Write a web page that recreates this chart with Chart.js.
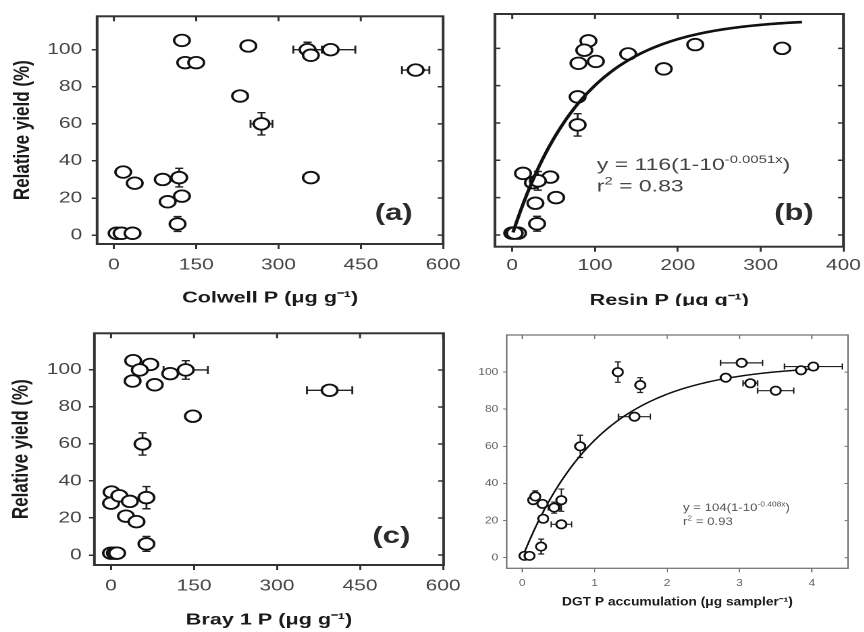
<!DOCTYPE html>
<html>
<head>
<meta charset="utf-8">
<script src="https://cdn.jsdelivr.net/npm/chart.js@4.4.1/dist/chart.umd.min.js"></script>
<style>
  body { margin: 0; background: #fff; width: 864px; height: 632px; overflow: hidden; position: relative; }
  .panel { position: absolute; overflow: hidden; }
  .panel canvas { display: block; }
</style>
</head>
<body>
<div class="panel" style="left:0;top:0;width:470px;height:310px"><canvas id="colwell"></canvas></div>
<div class="panel" style="left:455px;top:0;width:412px;height:306px"><canvas id="resin"></canvas></div>
<div class="panel" style="left:0;top:310px;width:470px;height:322px"><canvas id="bray"></canvas></div>
<div class="panel" style="left:455px;top:310px;width:410px;height:322px"><canvas id="dgt"></canvas></div>
<script>
// (a) Colwell P vs relative yield
const colwellX    = [124, 245, 130, 150, 230, 269, 353, 359, 395, 550, 359, 17, 38, 89, 119, 98, 124, 116, 5, 14, 34];
const colwellY    = [105, 102, 93, 93, 75, 60, 100, 97, 100, 89, 31, 34, 28, 30, 31, 18, 21, 6, 1, 1, 1];
const colwellXErr = [0, 0, 0, 0, 0, 20, 26, 0, 45, 25, 0, 0, 0, 0, 0, 0, 0, 0, 0, 0, 0];
const colwellYErr = [0, 0, 0, 0, 0, 6, 4, 0, 0, 2, 0, 0, 0, 0, 5, 0, 3, 4, 0, 0, 0];

// (b) Resin P
const resinX    = [92, 87, 80, 101, 140, 183, 221, 326, 79, 79, 13, 46, 25, 31, 28, 53, 30, 0, 7, 3];
const resinY    = [104, 99, 92, 93, 97, 89, 102, 100, 74, 59, 33, 31, 28, 29, 17, 20, 6, 1, 1, 1];
const resinYErr = [0, 0, 0, 0, 0, 2, 0, 0, 0, 6, 0, 0, 0, 5, 0, 0, 4, 0, 0, 0];
const resinFit  = { a: 116, k: 0.0051, r2: '0.83', from: 1, to: 350 };

// (c) Bray 1 P
const brayX    = [40, 71, 52, 39, 79, 107, 135, 395, 148, 57, 64, 1, 0, 15, 34, 27, 46, 64, 0, 7, 11];
const brayY    = [105, 103, 100, 94, 92, 98, 100, 89, 75, 60, 31, 34, 28, 32, 29, 21, 18, 6, 1, 1, 1];
const brayXErr = [0, 0, 0, 0, 0, 0, 40, 41, 0, 0, 0, 0, 0, 0, 0, 0, 0, 0, 0, 0, 0];
const brayYErr = [0, 0, 0, 0, 0, 0, 5, 0, 0, 6, 6, 0, 0, 0, 0, 0, 0, 4, 0, 0, 0];

// (d) DGT P accumulation
const dgtX    = [3.03, 2.81, 3.85, 4.02, 3.15, 3.5, 1.32, 1.63, 1.55, 0.8, 0.15, 0.18, 0.28, 0.44, 0.54, 0.29, 0.54, 0.26, 0.03, 0.1];
const dgtY    = [105, 97, 101, 103, 94, 90, 100, 93, 76, 60, 31, 33, 29, 27, 31, 21, 18, 6, 1, 1];
const dgtXErr = [0.29, 0, 0, 0.4, 0.1, 0.25, 0, 0, 0.22, 0, 0, 0, 0, 0.08, 0, 0, 0.14, 0, 0, 0];
const dgtYErr = [0, 0, 0, 2, 0, 0, 5.5, 4, 0, 6, 0, 3, 0, 3, 6, 0, 0, 4, 0, 0];
const dgtFit  = { a: 104, k: 0.408, r2: '0.93', from: 0.03, to: 4.05 };

const yTicks = [0, 20, 40, 60, 80, 100];
const ppmTicks = [0, 150, 300, 450, 600];
const resinTicks = [0, 100, 200, 300, 400];
const dgtTicks = [0, 1, 2, 3, 4];

const FONT = '"Liberation Sans", Arial, Helvetica, sans-serif';

function fitCurve(fit) {
  const pts = [];
  const n = 120;
  for (let i = 0; i <= n; i++) {
    const x = fit.from + (fit.to - fit.from) * i / n;
    pts.push({ x: x, y: fit.a * (1 - Math.pow(10, -fit.k * x)) });
  }
  return pts;
}

// error bars go under the circles
const errorBars = {
  id: 'errorBars',
  beforeDatasetsDraw(chart, args, o) {
    const ctx = chart.ctx, x = chart.scales.x, y = chart.scales.y;
    ctx.save();
    ctx.strokeStyle = o.color;
    ctx.lineWidth = o.width;
    chart.data.datasets.forEach(ds => {
      if (!ds.xErr && !ds.yErr) return;
      ds.data.forEach((p, i) => {
        const px = x.getPixelForValue(p.x), py = y.getPixelForValue(p.y);
        const ex = ds.xErr ? ds.xErr[i] : 0, ey = ds.yErr ? ds.yErr[i] : 0;
        ctx.beginPath();
        if (ex) {
          const l = x.getPixelForValue(p.x - ex), r = x.getPixelForValue(p.x + ex);
          ctx.moveTo(l, py); ctx.lineTo(r, py);
          ctx.moveTo(l, py - o.capV); ctx.lineTo(l, py + o.capV);
          ctx.moveTo(r, py - o.capV); ctx.lineTo(r, py + o.capV);
        }
        if (ey) {
          const t = y.getPixelForValue(p.y + ey), b = y.getPixelForValue(p.y - ey);
          ctx.moveTo(px, t); ctx.lineTo(px, b);
          ctx.moveTo(px - o.capH, t); ctx.lineTo(px + o.capH, t);
          ctx.moveTo(px - o.capH, b); ctx.lineTo(px + o.capH, b);
        }
        ctx.stroke();
      });
    });
    ctx.restore();
  }
};

function drawRich(ctx, parts, x, y, size, supSize, rise) {
  parts.forEach(p => {
    ctx.font = (p.sup ? supSize : size) + 'px ' + FONT;
    ctx.fillText(p.t, x, p.sup ? y - rise : y);
    x += ctx.measureText(p.t).width;
  });
}

// box, inner tick marks, panel letter and fit equation
const frame = {
  id: 'frame',
  afterDraw(chart, args, o) {
    const ctx = chart.ctx, a = chart.chartArea, x = chart.scales.x, y = chart.scales.y;
    ctx.save();
    ctx.strokeStyle = o.color;
    ctx.lineWidth = o.tickWidth;
    ctx.beginPath();
    x.ticks.forEach(t => {
      const px = x.getPixelForValue(t.value);
      ctx.moveTo(px, a.top); ctx.lineTo(px, a.top + o.tickV);
    });
    y.ticks.forEach(t => {
      const py = y.getPixelForValue(t.value);
      ctx.moveTo(a.right, py); ctx.lineTo(a.right - o.tickH, py);
      if (o.insideLeft) { ctx.moveTo(a.left, py); ctx.lineTo(a.left + o.tickH, py); }
    });
    ctx.stroke();
    ctx.lineWidth = o.width;
    ctx.strokeRect(a.left, a.top, a.right - a.left, a.bottom - a.top);

    if (o.letter) {
      ctx.fillStyle = '#2a2a2a';
      ctx.font = 'bold ' + o.letterSize + 'px ' + FONT;
      ctx.textAlign = 'right';
      ctx.textBaseline = 'alphabetic';
      ctx.fillText(o.letter, a.right - o.letterDx, a.bottom - o.letterDy);
    }
    if (o.fit) {
      const f = o.fit;
      ctx.fillStyle = o.eqColor;
      ctx.textAlign = 'left';
      ctx.textBaseline = 'alphabetic';
      const ex = a.left + o.eqDx, ey = a.top + o.eqDy;
      drawRich(ctx, [{ t: 'y = ' + f.a + '(1-10' }, { t: '-' + f.k + 'x', sup: true }, { t: ')' }],
        ex, ey, o.eqSize, o.eqSup, o.eqRise);
      drawRich(ctx, [{ t: 'r' }, { t: '2', sup: true }, { t: ' = ' + f.r2 }],
        ex, ey + o.eqGap, o.eqSize, o.eqSup, o.eqRise);
    }
    ctx.restore();
  }
};

const BIG = {
  sx: 1.35, tickSize: 15.5, tickColor: '#444', xTitleSize: 16, yTitleSize: 17,
  line: '#333', frameWidth: 2, tickWidth: 1.5, tickV: 5, tickH: 4,
  radius: 5.8, border: 1.8, capV: 4, capH: 3, errWidth: 1.4,
  letterSize: 23
};
const SMALL = {
  sx: 1.2, tickSize: 10, tickColor: '#666', xTitleSize: 11.5, yTitleSize: 11.5,
  line: '#777', frameWidth: 1.3, tickWidth: 1, tickV: 4, tickH: 3,
  radius: 4.2, border: 1.7, capV: 3, capH: 2.5, errWidth: 1.2,
  letterSize: 0
};

function makePanel(id, c) {
  const s = c.style;
  const canvas = document.getElementById(id);
  canvas.width = c.w;
  canvas.height = c.h;
  canvas.style.width = (c.w * s.sx) + 'px';
  canvas.style.height = c.h + 'px';

  const points = c.x.map((v, i) => ({ x: v, y: c.y[i] }));
  const datasets = [];
  if (c.fit) {
    datasets.push({
      type: 'line', data: fitCurve(c.fit), borderColor: '#111', borderWidth: c.curveWidth,
      pointRadius: 0, fill: false, tension: 0, order: c.curveOnTop ? 0 : 2
    });
  }
  datasets.push({
    data: points, xErr: c.xErr, yErr: c.yErr,
    pointStyle: 'circle', pointRadius: s.radius, pointBorderWidth: s.border,
    pointBorderColor: '#111', pointBackgroundColor: '#fff', order: 1
  });

  const tickFont = { family: FONT, size: s.tickSize };
  return new Chart(canvas, {
    type: 'scatter',
    data: { datasets: datasets },
    plugins: [errorBars, frame],
    options: {
      responsive: false,
      devicePixelRatio: 2,
      animation: false,
      events: [],
      layout: { padding: c.pad },
      plugins: {
        legend: { display: false },
        tooltip: { enabled: false },
        errorBars: { color: '#222', width: s.errWidth, capV: s.capV, capH: s.capH },
        frame: {
          color: s.line, width: s.frameWidth, tickWidth: s.tickWidth, tickV: s.tickV, tickH: s.tickH,
          insideLeft: !c.yLabels, letter: c.letter, letterSize: s.letterSize,
          letterDx: c.letterDx, letterDy: c.letterDy,
          fit: c.fit, eqDx: c.eqDx, eqDy: c.eqDy, eqGap: c.eqGap, eqSize: c.eqSize,
          eqSup: c.eqSup, eqRise: c.eqRise, eqColor: c.eqColor
        }
      },
      scales: {
        x: {
          type: 'linear', position: 'bottom', min: c.xMin, max: c.xMax,
          afterBuildTicks: sc => { sc.ticks = c.xTicks.map(v => ({ value: v })); },
          afterFit: sc => { sc.height = c.xHeight; },
          ticks: { font: tickFont, color: s.tickColor, padding: c.xTickPad, maxRotation: 0 },
          grid: { drawOnChartArea: false, drawTicks: true, tickLength: s.tickV, color: s.line, tickColor: s.line, lineWidth: s.tickWidth },
          border: { display: false },
          title: {
            display: true, text: c.xTitle, color: '#1a1a1a',
            font: { family: FONT, size: s.xTitleSize, weight: 'bold' },
            padding: { top: 0, bottom: c.xTitlePad }
          }
        },
        y: {
          type: 'linear', position: 'left', min: c.yMin, max: c.yMax,
          afterBuildTicks: sc => { sc.ticks = yTicks.map(v => ({ value: v })); },
          afterFit: sc => { sc.width = c.yWidth; },
          ticks: { display: c.yLabels, font: tickFont, color: s.tickColor, padding: c.yTickPad },
          grid: { display: c.yLabels, drawOnChartArea: false, drawTicks: true, tickLength: s.tickH, color: s.line, tickColor: s.line, lineWidth: s.tickWidth },
          border: { display: false },
          title: {
            display: !!c.yTitle, text: c.yTitle || '', color: '#1a1a1a',
            font: { family: FONT, size: s.yTitleSize, weight: 'bold' },
            padding: { top: c.yTitlePad, bottom: 0 }
          }
        }
      }
    }
  });
}

makePanel('colwell', {
  style: BIG, w: 348, h: 310,
  x: colwellX, y: colwellY, xErr: colwellXErr, yErr: colwellYErr,
  xMin: -30.6, xMax: 600, xTicks: ppmTicks, yMin: -4.8, yMax: 118,
  xTitle: 'Colwell P (μg g⁻¹)', yTitle: 'Relative yield (%)', yLabels: true,
  pad: { left: 0, top: 14, right: 16.9, bottom: 0 },
  yWidth: 71.9, xHeight: 66, xTickPad: 7, yTickPad: 7, xTitlePad: 2.4, yTitlePad: 6.8,
  letter: '(a)', letterDx: 22.5, letterDy: 24
});

makePanel('resin', {
  style: BIG, w: 305, h: 310,
  x: resinX, y: resinY, yErr: resinYErr,
  xMin: -20.8, xMax: 400, xTicks: resinTicks, yMin: -6.3, yMax: 118.4,
  xTitle: 'Resin P (μg g⁻¹)', yLabels: false,
  pad: { left: 0, top: 14, right: 14.9, bottom: 0 },
  yWidth: 29.6, xHeight: 63.3, xTickPad: 4.5, yTickPad: 0, xTitlePad: 0, yTitlePad: 0,
  letter: '(b)', letterDx: 22, letterDy: 26.7,
  fit: resinFit, curveWidth: 2.6, curveOnTop: true,
  eqDx: 75.4, eqDy: 156, eqGap: 21.5, eqSize: 17, eqSup: 11, eqRise: 7, eqColor: '#444'
});

makePanel('bray', {
  style: BIG, w: 348, h: 322,
  x: brayX, y: brayY, xErr: brayXErr, yErr: brayYErr,
  xMin: -30, xMax: 601, xTicks: ppmTicks, yMin: -5.4, yMax: 119.8,
  xTitle: 'Bray 1 P (μg g⁻¹)', yTitle: 'Relative yield (%)', yLabels: true,
  pad: { left: 0, top: 23.3, right: 18.4, bottom: 0 },
  yWidth: 69.9, xHeight: 67, xTickPad: 7, yTickPad: 5.4, xTitlePad: 2.4, yTitlePad: 5.8,
  letter: '(c)', letterDx: 24.6, letterDy: 22
});

makePanel('dgt', {
  style: SMALL, w: 341, h: 322,
  x: dgtX, y: dgtY, xErr: dgtXErr, yErr: dgtYErr,
  xMin: -0.215, xMax: 4.5, xTicks: dgtTicks, yMin: -5.7, yMax: 120,
  xTitle: 'DGT P accumulation (μg sampler⁻¹)', yLabels: true,
  pad: { left: 0, top: 25, right: 13.25, bottom: 0 },
  yWidth: 43.1, xHeight: 63.7, xTickPad: 5, yTickPad: 4, xTitlePad: 22.8, yTitlePad: 0,
  fit: dgtFit, curveWidth: 1.5, curveOnTop: false,
  eqDx: 147, eqDy: 176, eqGap: 14, eqSize: 11, eqSup: 7, eqRise: 4.5, eqColor: '#555'
});
</script>
</body>
</html>
